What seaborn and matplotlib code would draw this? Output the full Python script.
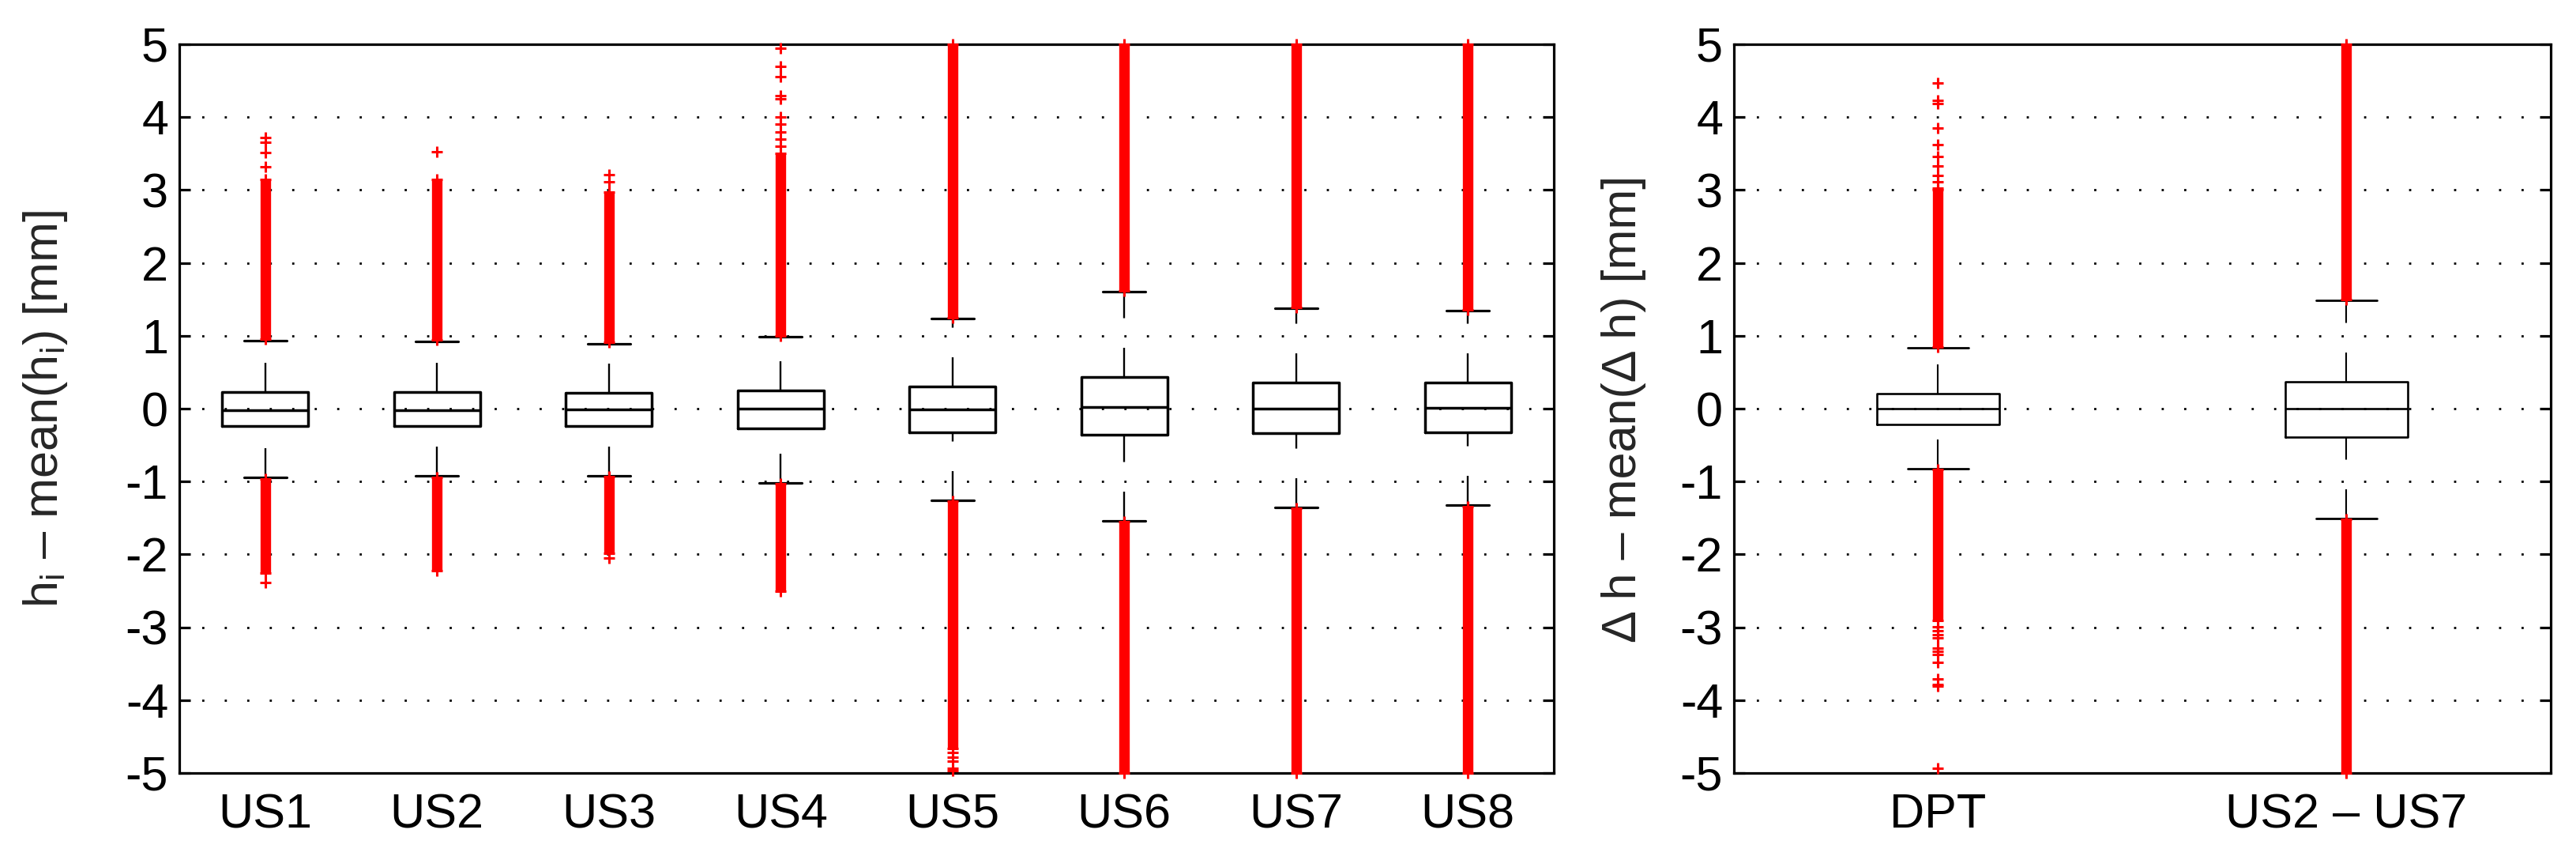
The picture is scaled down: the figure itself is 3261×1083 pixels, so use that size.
import numpy as np
import pandas as pd
import matplotlib
matplotlib.use("Agg")
import matplotlib.pyplot as plt
import seaborn as sns

# ---------------- data ----------------
cats_left = ["US1", "US2", "US3", "US4", "US5", "US6", "US7", "US8"]
lower_whisker_left = [-0.944, -0.922, -0.919, -1.016, -1.254, -1.535, -1.351, -1.326]
q1_left = [-0.238, -0.238, -0.238, -0.270, -0.324, -0.353, -0.335, -0.324]
median_left = [-0.018, -0.018, -0.011, 0.000, -0.011, 0.018, -0.004, 0.007]
q3_left = [0.231, 0.231, 0.216, 0.245, 0.303, 0.436, 0.357, 0.357]
upper_whisker_left = [0.933, 0.919, 0.894, 0.987, 1.236, 1.607, 1.373, 1.348]

# densely packed outliers (continuous runs of '+'), visible extent
upper_dense_left = [(0.95, 3.15), (0.94, 3.15), (0.91, 2.97), (1.00, 3.50),
                    (1.25, 5.00), (1.62, 5.00), (1.39, 5.00), (1.36, 5.00)]
lower_dense_left = [(-2.26, -0.96), (-2.22, -0.94), (-1.99, -0.93), (-2.50, -1.03),
                    (-4.66, -1.27), (-5.00, -1.55), (-5.00, -1.37), (-5.00, -1.34)]
# isolated outliers
sparse_left = {
    "US1": [3.32, 3.51, 3.66, 3.72, -2.39],
    "US2": [3.52],
    "US3": [3.11, 3.21, -2.05],
    "US4": [3.60, 3.70, 3.80, 3.90, 4.00, 4.25, 4.30, 4.55, 4.70, 4.95],
    "US5": [-4.72, -4.78, -4.84, -4.93, -4.97],
    "US6": [], "US7": [], "US8": [],
}

cats_right = ["DPT", "US2 \u2013 US7"]
lower_whisker_right = [-0.829, -1.503]
q1_right = [-0.216, -0.389]
median_right = [0.000, -0.004]
q3_right = [0.209, 0.368]
upper_whisker_right = [0.836, 1.488]
upper_dense_right = [(0.85, 3.00), (1.50, 5.00)]
lower_dense_right = [(-2.91, -0.84), (-5.00, -1.52)]
sparse_right = {
    "DPT": [3.03, 3.11, 3.20, 3.33, 3.46, 3.62, 3.85, 4.19, 4.23, 4.47,
            -2.99, -3.05, -3.10, -3.15, -3.29, -3.33, -3.37, -3.48, -3.71, -3.78, -3.81, -4.93],
    "US2 \u2013 US7": [],
}

yticks = [-5, -4, -3, -2, -1, 0, 1, 2, 3, 4, 5]

# ---------------- style ----------------
sns.set_theme(style="white")
plt.rcParams["font.family"] = ["Liberation Sans", "DejaVu Sans"]
plt.rcParams["mathtext.fontset"] = "custom"
plt.rcParams["mathtext.rm"] = "Liberation Sans"
plt.rcParams["mathtext.it"] = "Liberation Sans:italic"
plt.rcParams["lines.scale_dashes"] = False
plt.rcParams["axes.unicode_minus"] = True

FS = 44
RED = "#ff0000"

fig = plt.figure(figsize=(32.62, 10.83), dpi=100)
ax1 = fig.add_axes([227 / 3262, (1083 - 978) / 1083, (1967 - 227) / 3262, (978 - 56) / 1083])
ax2 = fig.add_axes([2195 / 3262, (1083 - 978) / 1083, (3229 - 2195) / 3262, (978 - 56) / 1083])


def stats_frame(cats, lo, q1, med, q3, hi):
    rows = []
    for c, a, b, m, d, e in zip(cats, lo, q1, med, q3, hi):
        for v in (a, b, m, d, e):
            rows.append({"group": c, "value": v})
    return pd.DataFrame(rows)


def draw_panel(ax, cats, lo, q1, med, q3, hi, up_dense, low_dense, sparse,
               width, box_lw, whisk_lw, cap_lw, ylabel, label_x):
    df = stats_frame(cats, lo, q1, med, q3, hi)
    n_before = len(ax.lines)
    sns.boxplot(data=df, x="group", y="value", order=cats, ax=ax,
                whis=(0, 100), width=width, fill=False, color="black",
                linewidth=box_lw, showfliers=False,
                boxprops=dict(color="black", linewidth=box_lw),
                medianprops=dict(color="black", linewidth=box_lw),
                whiskerprops=dict(color="black", linewidth=whisk_lw,
                                  linestyle=(0, (26.6, 27.0))),
                capprops=dict(color="black", linewidth=cap_lw))
    # MATLAB draws the lower whisker starting from the whisker end;
    # also enforce line widths per element kind
    for ln in ax.lines[n_before:]:
        x = np.asarray(ln.get_xdata(), dtype=float)
        y = np.asarray(ln.get_ydata(), dtype=float)
        if len(x) == 2 and x[0] == x[1]:
            ln.set_linewidth(whisk_lw)
            if y[1] < y[0]:
                ln.set_ydata(y[::-1])
        elif len(x) == 2 and y[0] == y[1]:
            # cap or median
            if abs(x[1] - x[0]) < width * 0.75:
                ln.set_linewidth(cap_lw)
            else:
                ln.set_linewidth(box_lw)
        else:
            ln.set_linewidth(box_lw)

    # outliers
    for i, c in enumerate(cats):
        for band in (up_dense[i], low_dense[i]):
            ax.vlines(i, band[0], band[1], colors=RED, linewidth=9.6,
                      zorder=3, clip_on=False)
        pts = [up_dense[i][0], up_dense[i][1], low_dense[i][0], low_dense[i][1]] + sparse[c]
        ax.plot([i] * len(pts), pts, linestyle="none", marker="+", color=RED,
                markersize=10, markeredgewidth=2.2, zorder=3, clip_on=False)

    ax.set_xlim(-0.5, len(cats) - 0.5)
    ax.set_ylim(-5, 5)
    ax.set_yticks(yticks)
    ax.set_yticklabels([str(t) for t in yticks])
    ax.set_xlabel("")
    ax.set_ylabel(ylabel, fontsize=FS)
    ax.yaxis.set_label_coords(label_x, 0.5)
    ax.yaxis.grid(True, color="black", linestyle=(0, (2, 18.5)), linewidth=2)
    ax.xaxis.grid(False)
    ax.set_axisbelow(True)
    for s in ax.spines.values():
        s.set_visible(True)
        s.set_color("black")
        s.set_linewidth(2.3)
    ax.tick_params(axis="y", which="both", direction="in", length=10, width=2.3,
                   left=True, right=True, labelsize=FS, pad=10, colors="black")
    ax.tick_params(axis="x", length=0, labelsize=FS, pad=18, colors="black")


draw_panel(ax1, cats_left, lower_whisker_left, q1_left, median_left, q3_left,
           upper_whisker_left, upper_dense_left, lower_dense_left, sparse_left,
           width=0.5, box_lw=2.5, whisk_lw=1.7, cap_lw=2.3,
           ylabel="h$_\\mathrm{i}$ \u2013 mean(h$_\\mathrm{i}$) [mm]", label_x=-0.08)
draw_panel(ax2, cats_right, lower_whisker_right, q1_right, median_right, q3_right,
           upper_whisker_right, upper_dense_right, lower_dense_right, sparse_right,
           width=0.3, box_lw=1.9, whisk_lw=1.5, cap_lw=2.0,
           ylabel="\u0394 h \u2013 mean(\u0394 h) [mm]", label_x=-0.107)

fig.savefig("out.png", dpi=100, facecolor="white")
